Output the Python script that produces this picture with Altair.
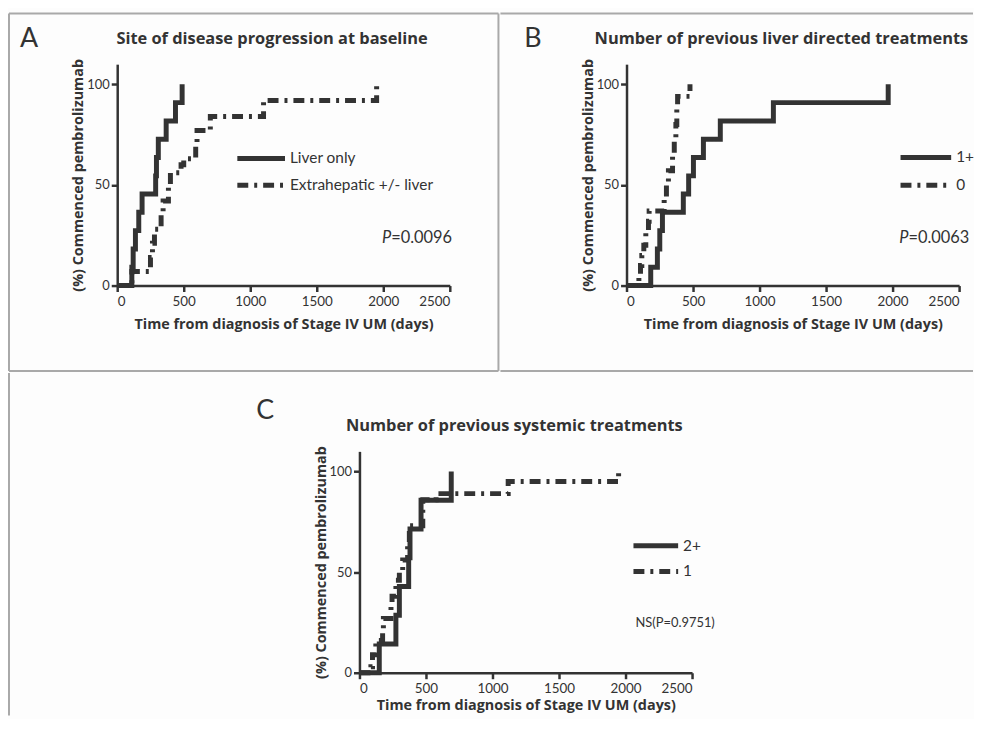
import altair as alt
import pandas as pd

# ---------------- data ----------------
X_TICKS = [0, 500, 1000, 1500, 2000, 2500]
Y_TICKS = [0, 50, 100]

# Panel A: site of disease progression at baseline
a_names = ["Liver only", "Extrahepatic +/- liver"]
a_liver_days = [0, 110, 120, 137, 162, 187, 289, 295, 309, 368, 438, 488]
a_liver_pct = [0, 9.1, 18.2, 27.3, 36.4, 45.5, 54.5, 63.6, 72.7, 81.8, 90.9, 100]
a_extra_days = [0, 110, 250, 265, 280, 330, 345, 385, 400, 480, 500, 590, 600, 700, 1100, 1950]
a_extra_pct = [0, 7, 14, 21, 28, 35, 42, 49, 56, 60, 63, 70, 77, 84, 92, 100]

# Panel B: number of previous liver directed treatments
b_names = ["1+", "0"]
b_one_days = [0, 182, 232, 250, 270, 427, 467, 503, 578, 705, 1104, 1967]
b_one_pct = [0, 9.1, 18.2, 27.3, 36.4, 45.5, 54.5, 63.6, 72.7, 81.8, 90.9, 100]
b_zero_days = [0, 93, 105, 115, 130, 145, 165, 170, 283, 300, 315, 346, 359, 371, 378, 384, 477]
b_zero_pct = [0, 4, 10, 15, 20, 27, 32, 37, 44, 50, 57, 65, 72, 80, 88, 94, 100]

# Panel C: number of previous systemic treatments
c_names = ["2+", "1"]
c_two_days = [0, 149, 274, 300, 370, 380, 463, 690]
c_two_pct = [0, 14.3, 28.6, 42.9, 57.1, 71.4, 85.7, 100]
c_one_days = [0, 86, 98, 123, 174, 180, 237, 245, 274, 300, 325, 362, 375, 476, 576, 1118, 1948]
c_one_pct = [0, 3, 9, 16, 22, 27, 33, 38, 46, 50, 56, 63, 73, 86, 89, 95, 100]

# ---------------- styling ----------------
INK = "#333333"
FRAME = "#a9a9a9"
FONT = "Lato"
BOLD_FONT = "Open Sans"
W, H = 335, 223
SOLID = [1, 0]
DASHDOT = [11, 6, 3, 6]


def make_df(names, days_list, pct_list):
    rows = []
    for name, days, pct in zip(names, days_list, pct_list):
        for d, p in zip(days, pct):
            rows.append({"series": name, "day": d, "pct": p})
    return pd.DataFrame(rows)


def one():
    return alt.Data(values=[{"k": 1}])


def text_at(txt, x, y, size=15, weight="normal", style="normal", align="left", font=FONT):
    return alt.Chart(one()).mark_text(
        text=txt, font=font, fontSize=size, fontWeight=weight, fontStyle=style,
        align=align, baseline="middle", color=INK,
    ).encode(x=alt.value(x), y=alt.value(y))


def rule_at(x, x2, y, y2):
    return alt.Chart(one()).mark_rule(color=FRAME, strokeWidth=2).encode(
        x=alt.value(x), x2=alt.value(x2), y=alt.value(y), y2=alt.value(y2)
    )


def legend_entry(label, dash, x, x2, y):
    sample = alt.Chart(one()).mark_rule(color=INK, strokeWidth=5, strokeDash=dash).encode(
        x=alt.value(x), x2=alt.value(x2), y=alt.value(y)
    )
    return [sample, text_at(label, x2 + 5, y, size=15.5)]


def panel(df, names, letter, letter_xy, title, title_y, legend_box, extras,
          xlabel_pad=3, xtitle_pad=10):
    x = alt.X(
        "day:Q",
        scale=alt.Scale(domain=[0, 2500], nice=False),
        axis=alt.Axis(
            values=X_TICKS, format="d", title="Time from diagnosis of Stage IV UM (days)", grid=False,
            domainColor=INK, domainWidth=2.5, tickColor=INK, tickWidth=2.5, tickSize=6,
            labelFont=FONT, labelFontSize=13.5, labelColor=INK, labelPadding=xlabel_pad,
            titleFont=BOLD_FONT, titleFontSize=14.5, titleFontWeight="bold", titleColor=INK,
            titlePadding=xtitle_pad,
        ),
    )
    y = alt.Y(
        "pct:Q",
        scale=alt.Scale(domain=[0, 110], nice=False),
        axis=alt.Axis(
            values=Y_TICKS, title="(%) Commenced pembrolizumab", grid=False,
            domainColor=INK, domainWidth=2.5, tickColor=INK, tickWidth=2.5, tickSize=6,
            labelFont=FONT, labelFontSize=13, labelColor=INK, labelPadding=2,
            titleFont=BOLD_FONT, titleFontSize=14.5, titleFontWeight="bold", titleColor=INK,
            titlePadding=1,
        ),
    )
    lines = alt.Chart(df).mark_line(
        interpolate="step-after", color=INK, strokeWidth=5, clip=False
    ).encode(
        x=x,
        y=y,
        strokeDash=alt.StrokeDash(
            "series:N",
            scale=alt.Scale(domain=names, range=[SOLID, DASHDOT]),
            legend=None,
        ),
    )
    lx, lx2, ly, gap = legend_box
    layers = [lines]
    layers += legend_entry(names[0], SOLID, lx, lx2, ly)
    layers += legend_entry(names[1], DASHDOT, lx, lx2, ly + gap)
    layers.append(text_at(letter, letter_xy[0], letter_xy[1], size=27))
    layers.append(text_at(title, 156, title_y, size=16.5, weight="bold", align="center",
                          font=BOLD_FONT))
    layers.extend(extras)
    return alt.layer(*layers).properties(width=W, height=H)


df_a = make_df(a_names, [a_liver_days, a_extra_days], [a_liver_pct, a_extra_pct])
df_b = make_df(b_names, [b_one_days, b_zero_days], [b_one_pct, b_zero_pct])
df_c = make_df(c_names, [c_two_days, c_one_days], [c_two_pct, c_one_pct])

panel_a = panel(
    df_a, a_names, "A", (-98, -25), "Site of disease progression at baseline", -25,
    (121, 169, 95, 27),
    [
        rule_at(-109, 384, -51, -51),
        rule_at(-109, 384, 309, 309),
        rule_at(-109, -109, -51, 309),
        rule_at(384, 384, -51, 309),
        text_at("P", 276, 175, size=16.5, style="italic", align="right"),
        text_at("=0.0096", 276, 175, size=16.5),
    ],
)

panel_b = panel(
    df_b, b_names, "B", (-103, -25), "Number of previous liver directed treatments", -25,
    (276, 327, 94, 28),
    [
        rule_at(-127, 349, -51, -51),
        rule_at(-127, 349, 309, 309),
        text_at("P", 284, 175, size=16.5, style="italic", align="right"),
        text_at("=0.0063", 284, 175, size=16.5),
    ],
)

panel_c = panel(
    df_c, c_names, "C", (-104, -41), "Number of previous systemic treatments", -26,
    (276, 321, 95, 26),
    [text_at("NS(P=0.9751)", 278, 173, size=13)],
    xlabel_pad=3, xtitle_pad=4,
)

# empty cell left of panel C, carrying the left frame line of the lower half
spacer_c = rule_at(-109, -109, -79, 266).properties(width=140, height=H)

top_row = alt.hconcat(panel_a, panel_b, spacing=0, bounds="full")
bottom_row = alt.hconcat(spacer_c, panel_c, spacing=0, bounds="full")

chart = alt.vconcat(
    top_row, bottom_row, spacing=0, bounds="full",
).resolve_scale(
    strokeDash="independent"
).properties(
    padding={"left": 0, "top": 2, "right": 0, "bottom": 0},
    background="#fdfdfd",
).configure_view(stroke=None)

chart.save("out.html", embed_options={"renderer": "svg", "actions": False})
